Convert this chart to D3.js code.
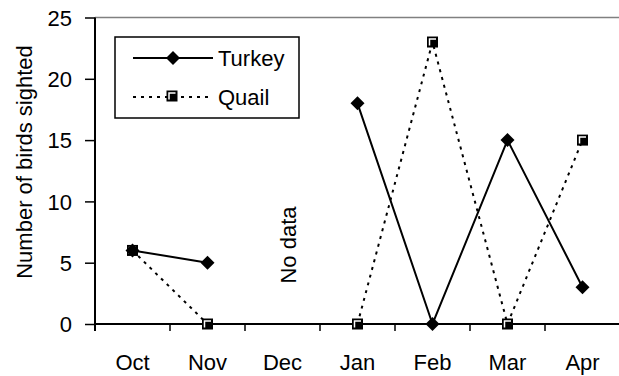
<!DOCTYPE html>
<html>
<head>
<meta charset="utf-8">
<script src="https://cdn.jsdelivr.net/npm/d3@7"></script>
<style>
  body { margin: 0; background: #fff; }
  text { font-family: "Liberation Sans", Arial, sans-serif; fill: #000; }
</style>
</head>
<body>
<div id="chart"></div>
<script>
// months and counts (null = no data)
var months = ["Oct", "Nov", "Dec", "Jan", "Feb", "Mar", "Apr"];
var turkey = [6, 5, null, 18, 0, 15, 3];
var quail = [6, 0, null, 0, 23, 0, 15];
var yTicks = [0, 5, 10, 15, 20, 25];

var width = 619, height = 376;
var margin = {top: 18, right: 0, bottom: 52, left: 95};
var fs = "22px";

var svg = d3.select("#chart").append("svg")
    .attr("width", width)
    .attr("height", height);

var x = d3.scaleBand()
    .domain(months)
    .range([margin.left, 620]);

var y = d3.scaleLinear()
    .domain([0, 25])
    .range([324, 17.5]);

// gray top border of plot
svg.append("line")
    .attr("x1", margin.left).attr("x2", width)
    .attr("y1", y(25)).attr("y2", y(25))
    .style("stroke", "#808080")
    .style("stroke-width", 1.5);

// y axis
var yAxis = svg.append("g")
    .attr("transform", "translate(" + margin.left + ",0)")
    .call(d3.axisLeft(y).tickValues(yTicks).tickSize(10).tickPadding(13));
yAxis.select(".domain").remove();
yAxis.selectAll("line").style("stroke", "#000").style("stroke-width", 1.5);
yAxis.selectAll("text").style("font-size", fs).attr("dy", "0.35em");

svg.append("line")
    .attr("x1", margin.left).attr("x2", margin.left)
    .attr("y1", y(25)).attr("y2", 331)
    .style("stroke", "#000").style("stroke-width", 2);

// x axis with ticks between months
svg.append("line")
    .attr("x1", margin.left).attr("x2", width)
    .attr("y1", y(0)).attr("y2", y(0))
    .style("stroke", "#000").style("stroke-width", 2);

svg.selectAll(".xtick")
    .data(months.slice(1))
    .enter().append("line")
    .attr("class", "xtick")
    .attr("x1", function(d) { return x(d); })
    .attr("x2", function(d) { return x(d); })
    .attr("y1", y(0)).attr("y2", y(0) + 7)
    .style("stroke", "#000").style("stroke-width", 1.5);

svg.selectAll(".xlabel")
    .data(months)
    .enter().append("text")
    .attr("class", "xlabel")
    .attr("x", function(d) { return x(d) + x.bandwidth() / 2; })
    .attr("y", 370)
    .attr("text-anchor", "middle")
    .style("font-size", fs)
    .text(function(d) { return d; });

// y axis title
svg.append("text")
    .attr("transform", "translate(32,162) rotate(-90)")
    .attr("text-anchor", "middle")
    .style("font-size", fs)
    .text("Number of birds sighted");

// "No data" note in the Dec slot
svg.append("text")
    .attr("transform", "translate(" + (x("Dec") + x.bandwidth() / 2 + 13) + ",245) rotate(-90)")
    .attr("text-anchor", "middle")
    .style("font-size", fs)
    .text("No data");

var line = d3.line()
    .defined(function(d) { return d != null; })
    .x(function(d, i) { return x(months[i]) + x.bandwidth() / 2; })
    .y(function(d) { return y(d); });

svg.append("path")
    .datum(quail)
    .attr("d", line)
    .style("fill", "none")
    .style("stroke", "#000")
    .style("stroke-width", 2)
    .style("stroke-dasharray", "3,5");

svg.append("path")
    .datum(turkey)
    .attr("d", line)
    .style("fill", "none")
    .style("stroke", "#000")
    .style("stroke-width", 2);

function diamond(g) {
  g.append("path")
    .attr("d", "M0,-7L7,0L0,7L-7,0Z")
    .style("fill", "#000");
}

function square(g) {
  g.append("rect")
    .attr("x", -5.5).attr("y", -5.5)
    .attr("width", 11).attr("height", 11)
    .style("fill", "#000");
  g.append("path")
    .attr("d", "M-3,3.5V-3H3.5")
    .style("fill", "none")
    .style("stroke", "#fff")
    .style("stroke-width", 1.5);
}

var turkeyPts = turkey.map(function(d, i) { return {m: months[i], v: d}; })
    .filter(function(d) { return d.v != null; });
var quailPts = quail.map(function(d, i) { return {m: months[i], v: d}; })
    .filter(function(d) { return d.v != null; });

svg.selectAll(".qpt")
    .data(quailPts)
    .enter().append("g")
    .attr("class", "qpt")
    .attr("transform", function(d) {
      return "translate(" + (x(d.m) + x.bandwidth() / 2) + "," + y(d.v) + ")";
    })
    .each(function() { square(d3.select(this)); });

svg.selectAll(".tpt")
    .data(turkeyPts)
    .enter().append("g")
    .attr("class", "tpt")
    .attr("transform", function(d) {
      return "translate(" + (x(d.m) + x.bandwidth() / 2) + "," + y(d.v) + ")";
    })
    .each(function() { diamond(d3.select(this)); });

// legend
var legend = svg.append("g");
legend.append("rect")
    .attr("x", 115).attr("y", 37)
    .attr("width", 184).attr("height", 81)
    .style("fill", "#fff")
    .style("stroke", "#000")
    .style("stroke-width", 1.5);

legend.append("line")
    .attr("x1", 133).attr("x2", 213).attr("y1", 58).attr("y2", 58)
    .style("stroke", "#000").style("stroke-width", 2);
legend.append("g").attr("transform", "translate(173,58)").call(diamond);
legend.append("text")
    .attr("x", 218).attr("y", 58).attr("dy", "0.35em")
    .style("font-size", fs)
    .text("Turkey");

legend.append("line")
    .attr("x1", 133).attr("x2", 211).attr("y1", 97).attr("y2", 97)
    .style("stroke", "#000").style("stroke-width", 2)
    .style("stroke-dasharray", "3,5");
legend.append("g").attr("transform", "translate(172,96)").call(square);
legend.append("text")
    .attr("x", 218).attr("y", 97).attr("dy", "0.35em")
    .style("font-size", fs)
    .text("Quail");
</script>
</body>
</html>
